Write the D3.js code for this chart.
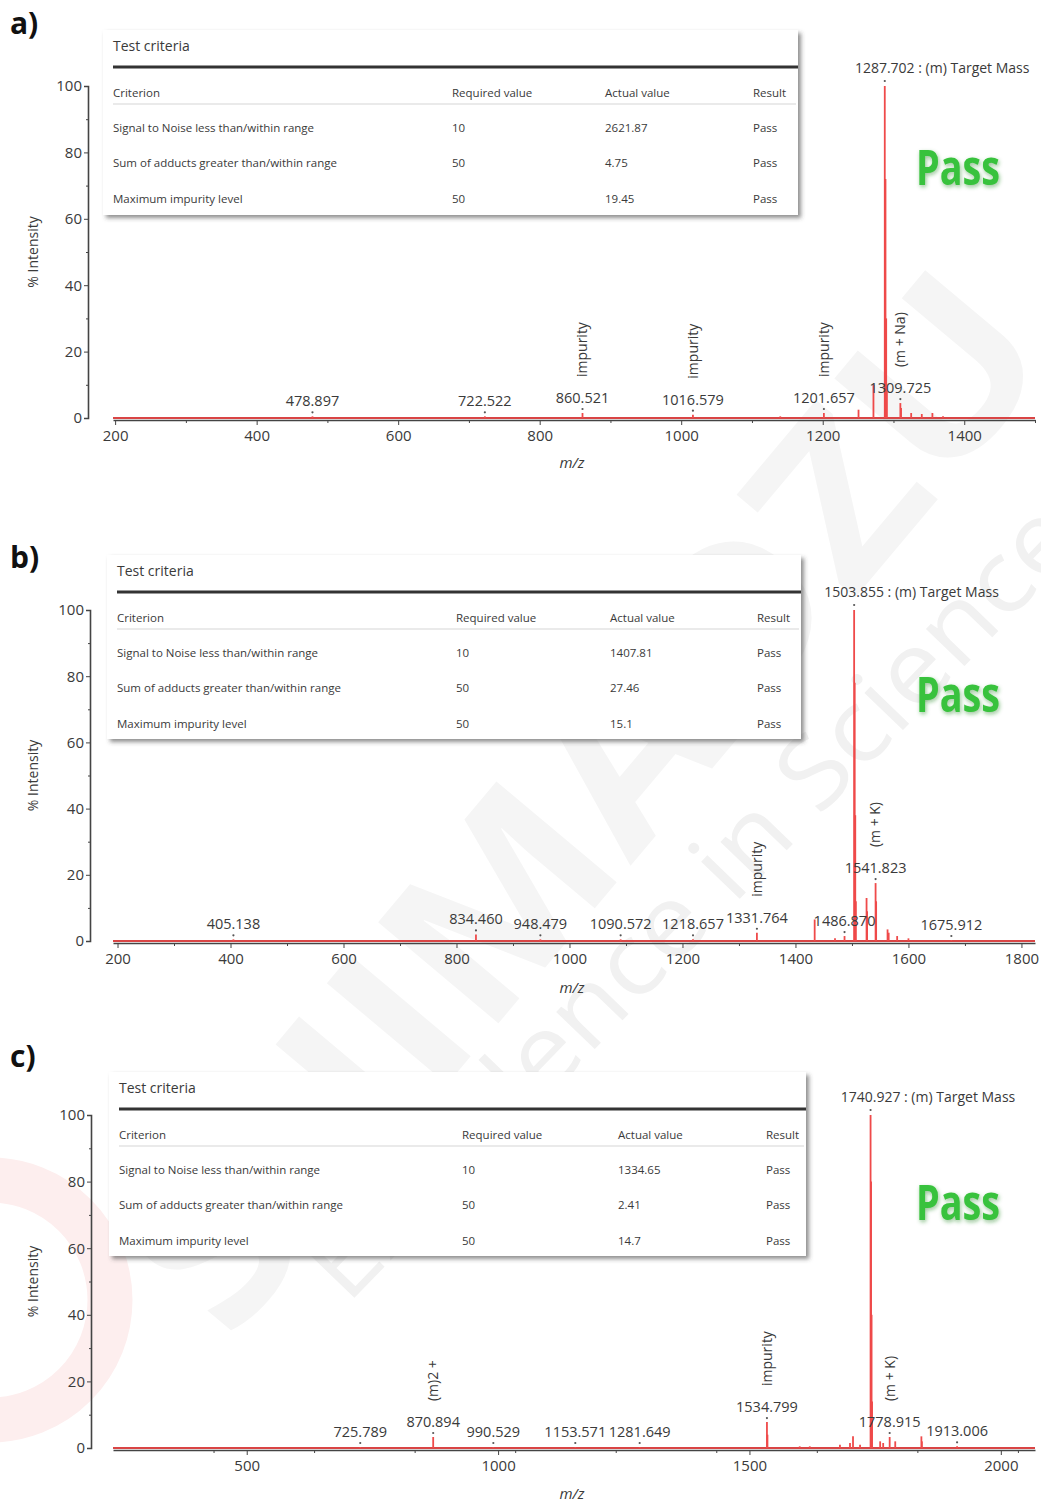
<!DOCTYPE html>
<html>
<head>
<meta charset="utf-8">
<title>Mass spectra test criteria</title>
<script src="https://cdn.jsdelivr.net/npm/d3@7"></script>
<style>
  body { margin: 0; background: #fff; }
  svg { display: block; }
  text { font-family: "Open Sans", "Noto Sans", sans-serif; }
</style>
</head>
<body>
<svg id="chart" width="1041" height="1506"></svg>
<script>
// ---- data ----
const Y_TICKS = [0, 20, 40, 60, 80, 100];
const Y_MINOR = [10, 30, 50, 70, 90];

const CRITERIA = [
  "Signal to Noise less than/within range",
  "Sum of adducts greater than/within range",
  "Maximum impurity level",
];
const REQUIRED = ["10", "50", "50"];
const RESULTS = ["Pass", "Pass", "Pass"];
const HEADERS = ["Criterion", "Required value", "Actual value", "Result"];

// panel a
const A_X_TICKS = [200, 400, 600, 800, 1000, 1200, 1400];
const A_X_MINOR = [300, 500, 700, 900, 1100, 1300, 1500];
const A_ACTUAL = ["2621.87", "4.75", "19.45"];
const A_TARGET = 1287.702;
const A_PEAK_MZ = [478.897, 722.522, 860.521, 1016.579, 1140, 1201.657, 1250.6, 1271.7,
  1287.702, 1288.7, 1289.7, 1290.7, 1309.725, 1310.7, 1325, 1340, 1355, 1370];
const A_PEAK_INT = [0.5, 0.5, 1.5, 1.0, 0.5, 1.5, 2.5, 10,
  100, 72, 30, 8, 4.5, 3, 1.5, 1.2, 1.5, 0.5];
const A_LABEL_MZ = [478.897, 722.522, 860.521, 1016.579, 1201.657, 1309.725];
const A_LABEL_NOTE = ["", "", "impurity", "impurity", "impurity", "(m + Na)"];

// panel b
const B_X_TICKS = [200, 400, 600, 800, 1000, 1200, 1400, 1600, 1800];
const B_X_MINOR = [300, 500, 700, 900, 1100, 1300, 1500, 1700];
const B_ACTUAL = ["1407.81", "27.46", "15.1"];
const B_TARGET = 1503.855;
const B_PEAK_MZ = [405.138, 834.460, 948.479, 1090.572, 1218.657, 1331.764, 1434, 1470,
  1486.870, 1503.855, 1504.86, 1505.86, 1506.9, 1525.84, 1526.8, 1541.823, 1542.8,
  1563, 1565, 1580, 1600, 1675.912];
const B_PEAK_INT = [0.5, 2, 0.5, 0.5, 0.5, 2.5, 6.5, 0.8,
  1.5, 100, 78, 38, 12, 13, 9, 17.5, 12,
  3.5, 2.5, 1.5, 0.8, 0.3];
const B_LABEL_MZ = [405.138, 834.460, 948.479, 1090.572, 1218.657, 1331.764, 1486.870, 1541.823, 1675.912];
const B_LABEL_NOTE = ["", "", "", "", "", "impurity", "", "(m + K)", ""];

// panel c
const C_X_TICKS = [500, 1000, 1500, 2000];
const C_X_MINOR = [434, 634, 834, 1034, 1234, 1434, 1634, 1834, 2034];
const C_ACTUAL = ["1334.65", "2.41", "14.7"];
const C_TARGET = 1740.927;
const C_PEAK_MZ = [725.789, 870.894, 990.529, 1153.571, 1281.649, 1534.799, 1535.8, 1600, 1620,
  1680, 1700, 1706, 1720, 1740.927, 1741.93, 1742.93, 1743.9, 1760, 1766, 1778.915, 1790,
  1842, 1843, 1913.006];
const C_PEAK_INT = [0.3, 3.3, 0.3, 0.3, 0.3, 7.8, 4, 0.5, 0.5,
  1, 1.5, 3.5, 1, 100, 80, 40, 14, 2, 1.5, 3.3, 2,
  3.5, 2, 0.5];
const C_LABEL_MZ = [725.789, 870.894, 990.529, 1153.571, 1281.649, 1534.799, 1778.915, 1913.006];
const C_LABEL_NOTE = ["", "(m)2 +", "", "", "", "impurity", "(m + K)", ""];

// ---- layout ----
const PANELS = [
  { id: "a)", idY: 34, xDomain: [197, 1500], yRange: [418, 86], yAxisX: 88,
    xTicks: A_X_TICKS, xMinor: A_X_MINOR, mz: A_PEAK_MZ, inten: A_PEAK_INT,
    labelMz: A_LABEL_MZ, labelNote: A_LABEL_NOTE, target: A_TARGET, actual: A_ACTUAL,
    table: { x: 103, y: 30, w: 695, h: 185, cols: [0, 339, 492, 640] },
    pass: [958, 185], mzLabelY: 468 },
  { id: "b)", idY: 568, xDomain: [192, 1824], yRange: [941, 610], yAxisX: 90,
    xTicks: B_X_TICKS, xMinor: B_X_MINOR, mz: B_PEAK_MZ, inten: B_PEAK_INT,
    labelMz: B_LABEL_MZ, labelNote: B_LABEL_NOTE, target: B_TARGET, actual: B_ACTUAL,
    table: { x: 107, y: 555, w: 694, h: 184, cols: [0, 339, 493, 640] },
    pass: [958, 712], mzLabelY: 993 },
  { id: "c)", idY: 1067, xDomain: [234, 2068], yRange: [1448, 1115], yAxisX: 91,
    xTicks: C_X_TICKS, xMinor: C_X_MINOR, mz: C_PEAK_MZ, inten: C_PEAK_INT,
    labelMz: C_LABEL_MZ, labelNote: C_LABEL_NOTE, target: C_TARGET, actual: C_ACTUAL,
    table: { x: 109, y: 1072, w: 697, h: 184, cols: [0, 343, 499, 647] },
    pass: [958, 1220], mzLabelY: 1499 },
];

const X_RANGE = [113, 1035];
const TEXT = "#3a3a3a";
const RED = "#ef4a4a";
const fmt = d3.format(".3f");

const svg = d3.select("#chart");
const defs = svg.append("defs");

// shadow for the criteria boxes
const sh = defs.append("filter").attr("id", "boxShadow")
  .attr("x", "-5%").attr("y", "-5%").attr("width", "112%").attr("height", "120%");
sh.append("feDropShadow").attr("dx", 3).attr("dy", 3).attr("stdDeviation", 2)
  .attr("flood-color", "#444").attr("flood-opacity", 0.6);

// soft glow for the green Pass text
const gl = defs.append("filter").attr("id", "passGlow")
  .attr("x", "-20%").attr("y", "-20%").attr("width", "140%").attr("height", "140%");
gl.append("feDropShadow").attr("dx", 1).attr("dy", 2).attr("stdDeviation", 2)
  .attr("flood-color", "#1a7a1a").attr("flood-opacity", 0.45);

// ---- faint watermark behind everything ----
const wm = svg.append("g").attr("class", "watermark");
wm.append("circle").attr("cx", -10).attr("cy", 1300).attr("r", 120)
  .attr("fill", "none").attr("stroke", "#fdeeee").attr("stroke-width", 45);
wm.append("text")
  .attr("transform", "translate(585,800) rotate(-50)")
  .attr("text-anchor", "middle").attr("dy", "0.35em")
  .attr("font-size", 220).attr("font-weight", 700)
  .attr("textLength", 1290).attr("lengthAdjust", "spacingAndGlyphs")
  .attr("fill", "#f5f5f5").text("SHIMADZU");
wm.append("text")
  .attr("transform", "translate(690,900) rotate(-46)")
  .attr("text-anchor", "middle").attr("dy", "0.35em")
  .attr("font-size", 100)
  .attr("textLength", 1060).attr("lengthAdjust", "spacingAndGlyphs")
  .attr("fill", "#f1f1f1").text("Excellence in Science");

// ---- draw each panel ----
PANELS.forEach((p) => {
  const g = svg.append("g");
  const x = d3.scaleLinear().domain(p.xDomain).range(X_RANGE);
  const y = d3.scaleLinear().domain([0, 100]).range(p.yRange);
  const y0 = y(0);

  // panel letter
  g.append("text").attr("x", 10).attr("y", p.idY)
    .attr("font-size", 30).attr("font-weight", 700).attr("fill", "#111").text(p.id);

  // y axis
  const yAxis = g.append("g").attr("transform", `translate(${p.yAxisX},0)`)
    .call(d3.axisLeft(y).tickValues(Y_TICKS).tickSize(4).tickPadding(2));
  g.append("g").attr("transform", `translate(${p.yAxisX},0)`)
    .call(d3.axisLeft(y).tickValues(Y_MINOR).tickSize(2).tickFormat(""))
    .call((s) => s.select(".domain").remove());

  g.append("text")
    .attr("transform", `translate(38,${(p.yRange[0] + p.yRange[1]) / 2}) rotate(-90)`)
    .attr("text-anchor", "middle").attr("font-size", 14).attr("fill", TEXT)
    .text("% Intensity");

  // x axis
  const xAxis = g.append("g").attr("transform", `translate(0,${y0 + 2})`)
    .call(d3.axisBottom(x).tickValues(p.xTicks).tickSize(5).tickSizeOuter(0)
      .tickPadding(5).tickFormat(d3.format("d")));
  g.append("g").attr("transform", `translate(0,${y0 + 2})`)
    .call(d3.axisBottom(x).tickValues(p.xMinor).tickSize(3).tickFormat(""))
    .call((s) => s.select(".domain").remove());

  [yAxis, xAxis].forEach((ax) => {
    ax.selectAll("text").attr("font-size", 15).attr("fill", TEXT)
      .attr("font-family", "\"Open Sans\", sans-serif");
    ax.select(".domain").attr("stroke", "#444").attr("stroke-width", 1.6);
  });
  g.selectAll(".tick line").attr("stroke", "#444");

  g.append("text").attr("x", 572).attr("y", p.mzLabelY)
    .attr("text-anchor", "middle").attr("font-size", 15)
    .attr("font-style", "italic").attr("fill", TEXT).text("m/z");

  // baseline trace
  g.append("line").attr("x1", X_RANGE[0]).attr("x2", X_RANGE[1])
    .attr("y1", y0).attr("y2", y0).attr("stroke", "#d94545").attr("stroke-width", 2);

  // peaks as sticks
  g.selectAll("line.peak").data(d3.zip(p.mz, p.inten)).join("line")
    .attr("class", "peak")
    .attr("x1", (d) => x(d[0])).attr("x2", (d) => x(d[0]))
    .attr("y1", y0).attr("y2", (d) => y(d[1]))
    .attr("stroke", RED).attr("stroke-width", 1.8);

  // peak labels with a dot and optional rotated note
  const intAt = (m) => p.inten[p.mz.indexOf(m)];
  p.labelMz.forEach((m, i) => {
    const px = x(m);
    const top = y(intAt(m));
    g.append("circle").attr("cx", px).attr("cy", top - 4).attr("r", 1.1).attr("fill", "#555");
    const base = top - 10;
    g.append("text").attr("x", px).attr("y", base)
      .attr("text-anchor", "middle").attr("font-size", 14.5).attr("fill", TEXT)
      .text(fmt(m));
    if (p.labelNote[i]) {
      g.append("text")
        .attr("transform", `translate(${px},${base - 26}) rotate(-90)`)
        .attr("dy", "0.35em").attr("font-size", 14).attr("fill", TEXT)
        .text(p.labelNote[i]);
    }
  });

  // target mass label
  const tx = x(p.target);
  const ty = y(100);
  g.append("circle").attr("cx", tx).attr("cy", ty - 5).attr("r", 1.1).attr("fill", "#555");
  const tl = g.append("text").attr("y", ty - 13).attr("font-size", 14).attr("fill", TEXT);
  tl.append("tspan").text(fmt(p.target));
  const numW = tl.node().getComputedTextLength();
  tl.append("tspan").text(" : (m) Target Mass");
  tl.attr("x", tx - numW / 2);

  // criteria box
  const t = p.table;
  const x0 = t.x + 10;
  const tb = g.append("g");
  tb.append("rect").attr("x", t.x).attr("y", t.y).attr("width", t.w).attr("height", t.h)
    .attr("fill", "#fff").attr("filter", "url(#boxShadow)");
  tb.append("text").attr("x", x0).attr("y", t.y + 21)
    .attr("font-size", 14).attr("fill", TEXT).text("Test criteria");
  tb.append("line").attr("x1", x0).attr("x2", t.x + t.w)
    .attr("y1", t.y + 37).attr("y2", t.y + 37).attr("stroke", "#333").attr("stroke-width", 3);
  HEADERS.forEach((h, j) => {
    tb.append("text").attr("x", x0 + t.cols[j]).attr("y", t.y + 67)
      .attr("font-size", 11.5).attr("fill", TEXT).text(h);
  });
  tb.append("line").attr("x1", x0).attr("x2", t.x + t.w - 2)
    .attr("y1", t.y + 74).attr("y2", t.y + 74).attr("stroke", "#d6d6d6").attr("stroke-width", 1.2);
  const rowY = [102, 137, 173];
  CRITERIA.forEach((c, r) => {
    const cells = [c, REQUIRED[r], p.actual[r], RESULTS[r]];
    cells.forEach((v, j) => {
      tb.append("text").attr("x", x0 + t.cols[j]).attr("y", t.y + rowY[r])
        .attr("font-size", 11.5).attr("fill", TEXT).text(v);
    });
  });

  // big green verdict
  g.append("text").attr("x", p.pass[0]).attr("y", p.pass[1])
    .attr("text-anchor", "middle").attr("font-size", 48).attr("font-weight", 700)
    .attr("textLength", 84).attr("lengthAdjust", "spacingAndGlyphs")
    .attr("fill", "#38c23c").attr("filter", "url(#passGlow)").text("Pass");
});
</script>
</body>
</html>
